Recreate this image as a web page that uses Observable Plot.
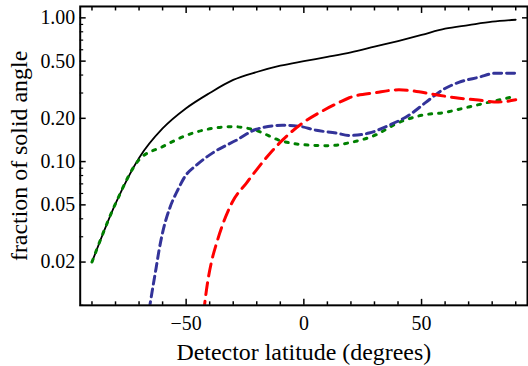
<!DOCTYPE html>
<html>
<head>
<meta charset="utf-8">
<script src="https://cdn.jsdelivr.net/npm/d3@7"></script>
<script src="https://cdn.jsdelivr.net/npm/@observablehq/plot@0.6"></script>
<style>
  html, body { margin: 0; padding: 0; background: #fff; overflow: hidden; }
</style>
</head>
<body>
<div id="chart"></div>
<script>
// ---- data ----
const blackLat  = [-90, -80, -70, -60, -50, -40, -30, -20, -10, 0, 10, 20, 30, 40, 50, 60, 70, 80, 90];
const blackFrac = [0.02, 0.051, 0.106, 0.17, 0.235, 0.30, 0.37, 0.42, 0.465, 0.50, 0.535, 0.575, 0.63, 0.69, 0.76, 0.84, 0.89, 0.94, 0.97];

const greenLat  = [-90, -80, -70, -60, -50, -40, -30, -20, -10, 0, 10, 20, 30, 40, 50, 60, 70, 80, 90];
const greenFrac = [0.02, 0.051, 0.103, 0.127, 0.152, 0.169, 0.175, 0.164, 0.14, 0.131, 0.129, 0.136, 0.152, 0.186, 0.21, 0.22, 0.24, 0.262, 0.285];

const blueLat  = [-66.5, -65.4, -64.1, -62.8, -61.6, -59.9, -56.9, -53.5, -50.6, -45.5, -38.7, -28.6, -20.1, -9.1, -1.9, 5.3, 13.8, 19.3, 27.7, 36.2, 44.6, 51.8, 58.6, 65.8, 74.3, 81.5, 90];
const blueFrac = [0.0076, 0.01, 0.0135, 0.018, 0.0237, 0.0326, 0.0478, 0.0637, 0.0783, 0.0949, 0.115, 0.141, 0.168, 0.179, 0.176, 0.165, 0.158, 0.152, 0.158, 0.179, 0.21, 0.258, 0.313, 0.356, 0.386, 0.412, 0.412];

const redLat  = [-43.4, -42.2, -40.9, -39.1, -37.0, -34.5, -30.3, -24.3, -20.1, -14.6, -9.1, -0.6, 6.6, 15, 19.3, 30.7, 40.4, 48.9, 56.1, 64.5, 73, 82.7, 90];
const redFrac = [0.0065, 0.01, 0.0144, 0.0205, 0.0273, 0.0364, 0.0526, 0.0712, 0.0876, 0.113, 0.141, 0.185, 0.219, 0.258, 0.278, 0.302, 0.316, 0.306, 0.292, 0.278, 0.269, 0.26, 0.269];

const xMajorTicks = [-50, 0, 50];
const xMinorTicks = [-90, -80, -70, -60, -40, -30, -20, -10, 10, 20, 30, 40, 60, 70, 80, 90];
const yMajorTicks = [0.02, 0.05, 0.1, 0.2, 0.5, 1.0];
const yMinorTicks = [0.01, 0.03, 0.04, 0.06, 0.07, 0.08, 0.09, 0.3, 0.4, 0.6, 0.7, 0.8, 0.9];
const xTitle = ["Detector latitude (degrees)"];
const yTitle = ["fraction of solid angle"];

const toRows = (lat, frac) => lat.map((x, i) => ({x, y: frac[i]}));

const lineStyle = {x: "x", y: "y", curve: "monotone-x", clip: true};

const chart = Plot.plot({
  width: 530,
  height: 366,
  marginLeft: 80,
  marginRight: 1,
  marginTop: 6,
  marginBottom: 60,
  style: {fontFamily: "'Liberation Serif', 'Times New Roman', serif", fontSize: "20px", color: "#000", background: "#fff"},
  x: {domain: [-95, 95], label: null},
  y: {type: "log", domain: [0.01, 1.2], label: null},
  marks: [
    Plot.line(toRows(blackLat, blackFrac), {...lineStyle, stroke: "#000", strokeWidth: 1.8}),
    Plot.line(toRows(greenLat, greenFrac), {...lineStyle, stroke: "#008000", strokeWidth: 3, strokeDasharray: "3 7"}),
    Plot.line(toRows(blueLat, blueFrac), {...lineStyle, stroke: "#333399", strokeWidth: 3, strokeDasharray: "8 5"}),
    Plot.line(toRows(redLat, redFrac), {...lineStyle, stroke: "#ff0000", strokeWidth: 3, strokeDasharray: "12 7"}),
    Plot.frame({stroke: "#000", strokeWidth: 2}),
    // bottom axis
    Plot.axisX({anchor: "bottom", ticks: xMajorTicks, tickSize: -6, tickPadding: 17, tickFormat: d => d < 0 ? "\u2212" + Math.abs(d) : String(d), strokeWidth: 1.5, fontSize: 20, label: null}),
    Plot.axisX({anchor: "bottom", ticks: xMinorTicks, tickSize: -3.5, tickFormat: () => "", strokeWidth: 1.5, label: null}),
    // top axis
    Plot.axisX({anchor: "top", ticks: xMajorTicks, tickSize: -6, tickFormat: () => "", strokeWidth: 1.5, label: null}),
    Plot.axisX({anchor: "top", ticks: xMinorTicks, tickSize: -3.5, tickFormat: () => "", strokeWidth: 1.5, label: null}),
    // left axis
    Plot.axisY({anchor: "left", ticks: yMajorTicks, tickSize: -6, tickPadding: 11, tickFormat: d3.format(".2f"), strokeWidth: 1.5, fontSize: 20, label: null}),
    Plot.axisY({anchor: "left", ticks: yMinorTicks, tickSize: -3.5, tickFormat: () => "", strokeWidth: 1.2, label: null}),
    // right axis
    Plot.axisY({anchor: "right", ticks: yMajorTicks, tickSize: -6, tickFormat: () => "", strokeWidth: 1.5, label: null}),
    // titles
    Plot.text(xTitle, {text: d => d, frameAnchor: "bottom", textAnchor: "middle", lineAnchor: "middle", dy: 47, fontSize: 24}),
    Plot.text(yTitle, {text: d => d, frameAnchor: "left", textAnchor: "middle", rotate: -90, lineAnchor: "middle", dx: -61, fontSize: 24})
  ]
});
document.getElementById("chart").appendChild(chart);
</script>
</body>
</html>
